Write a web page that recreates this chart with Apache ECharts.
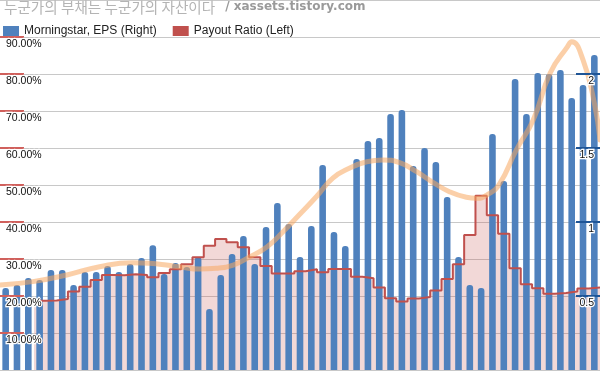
<!DOCTYPE html>
<html>
<head>
<meta charset="utf-8">
<script src="https://cdn.jsdelivr.net/npm/echarts@6/dist/echarts.min.js"></script>
<style>
html,body{margin:0;padding:0;background:#fff;}
#chart{width:600px;height:371px;}
</style>
</head>
<body>
<div id="chart"></div>
<script>
// ---- data ----
var categories = [];
for (var i = 1; i <= 53; i++) { categories.push(String(i)); }

// Morningstar EPS (right axis)
var eps = [0.554, 0.574, 0.622, 0.608, 0.676, 0.676, 0.574, 0.662, 0.662, 0.703,
           0.662, 0.716, 0.757, 0.843, 0.649, 0.723, 0.696, 0.764, 0.412, 0.642,
           0.784, 0.905, 0.716, 0.966, 1.128, 0.986, 0.764, 0.973, 1.385, 0.932,
           0.838, 1.426, 1.547, 1.568, 1.730, 1.757, 1.378, 1.500, 1.405, 1.169,
           0.764, 0.574, 0.554, 1.595, 1.277, 1.966, 1.730, 2.007, 2.000, 2.027,
           1.838, 1.926, 2.128];

// Payout ratio (left axis, %), starts at period index 3
var payoutStart = 3;
var payout = [18.7, 18.8, 19.2, 21.2, 22.5, 24.3, 25.7, 25.6, 25.9, 25.7,
              25.1, 26.2, 27.2, 28.6, 30.5, 33.6, 35.4, 34.5, 33.2, 30.5,
              28.1, 26.1, 26.1, 26.7, 27.2, 26.4, 27.3, 27.3, 25.2, 24.8,
              22.3, 19.4, 18.5, 19.3, 19.7, 21.5, 24.6, 28.6, 36.5, 47.1,
              41.8, 36.8, 27.5, 23.2, 22.1, 20.6, 20.8, 21.2, 22.0, 22.3];

// EPS trend line (position in periods, value on right axis)
var trendPos = [0, 2.9, 5.9, 8.8, 11.7, 13.2, 14.7, 16.1, 17.6, 19.1, 20.6, 22.1, 23.6, 25.0,
                26.5, 28.0, 29.4, 30.9, 32.4, 33.8, 35.3, 36.8, 38.2, 39.7, 41.2, 42.1, 43.0,
                44.1, 45.6, 47.1, 48.6, 50.1, 50.5, 51.5, 52.5, 53];
var trendVal = [0.574, 0.597, 0.642, 0.698, 0.725, 0.721, 0.709, 0.694, 0.682, 0.687, 0.709, 0.766, 0.833, 0.934,
                1.054, 1.176, 1.297, 1.365, 1.407, 1.419, 1.401, 1.340, 1.270, 1.205, 1.167, 1.160, 1.182,
                1.255, 1.486, 1.689, 2.007, 2.182, 2.218, 2.095, 1.804, 1.554];

var leftTicks = [0, 100, 10];   // min, max, interval (%)
var rightTicks = [0, 2.5, 0.5]; // min, max, interval

// ---- build ----
var payoutPts = payout.map(function (v, i) { return [payoutStart + i, v]; });
payoutPts.push([payoutStart + payout.length, payout[payout.length - 1]]);
var trendPts = trendPos.map(function (p, i) { return [p, trendVal[i]]; });

var labelStyle = {
  inside: true, margin: 6, verticalAlign: 'top', padding: [2, 0, 0, 0],
  showMinLabel: false, showMaxLabel: false,
  fontFamily: 'Liberation Sans', fontSize: 10.5, color: '#111',
  textBorderColor: '#fff', textBorderWidth: 2.5
};

var chart = echarts.init(document.getElementById('chart'), null, {renderer: 'canvas'});
chart.setOption({
  animation: false,
  backgroundColor: '#fff',
  title: {
    left: 4, top: 0, padding: 0,
    text: '{k|누군가의 부채는 누군가의 자산이다}{u|/ xassets.tistory.com}',
    textStyle: {
      rich: {
        k: {fontFamily: 'Noto Sans CJK KR', fontSize: 14.6, color: '#b4b4b4', fontWeight: 'normal'},
        u: {fontFamily: 'DejaVu Sans', fontSize: 12, color: '#9a9a9a', fontWeight: 'bold', padding: [0, 0, 0, 10]}
      }
    }
  },
  legend: {
    left: 3, top: 25, padding: 0, itemGap: 16,
    itemWidth: 16, itemHeight: 10, icon: 'rect',
    data: ['Morningstar, EPS (Right)', 'Payout Ratio (Left)'],
    textStyle: {fontFamily: 'Liberation Sans', fontSize: 12, color: '#222'}
  },
  grid: {left: 0, right: 0, top: 0, bottom: 1, containLabel: false},
  xAxis: [
    {type: 'category', data: categories, boundaryGap: true, show: false},
    {type: 'value', min: 0, max: categories.length, show: false}
  ],
  yAxis: [
    {
      type: 'value', position: 'left', min: leftTicks[0], max: leftTicks[1], interval: leftTicks[2],
      z: 10,
      axisLine: {show: false},
      axisTick: {show: true, inside: true, length: 24, lineStyle: {color: '#d0605c', width: 2}},
      axisLabel: Object.assign({}, labelStyle, {
        formatter: function (v) { return v.toFixed(2) + '%'; }
      }),
      splitLine: {show: false}
    },
    {
      type: 'value', position: 'right', min: rightTicks[0], max: rightTicks[1], interval: rightTicks[2],
      z: 10,
      axisLine: {show: false},
      axisTick: {show: true, inside: true, length: 24, lineStyle: {color: '#1f5596', width: 2}},
      axisLabel: Object.assign({}, labelStyle),
      splitLine: {show: false}
    },
    {
      type: 'value', position: 'left', min: leftTicks[0], max: leftTicks[1], interval: leftTicks[2],
      z: 0,
      axisLine: {show: false}, axisTick: {show: false}, axisLabel: {show: false},
      splitLine: {show: true, lineStyle: {color: '#c8c8c8', width: 1}}
    }
  ],
  series: [
    {
      name: 'payoutArea', type: 'line', xAxisIndex: 1, yAxisIndex: 0, step: 'end',
      data: payoutPts, symbol: 'none', z: 1,
      lineStyle: {width: 0, opacity: 0},
      areaStyle: {color: 'rgba(200,85,80,0.33)', origin: 'start'}
    },
    {
      name: 'Morningstar, EPS (Right)', type: 'bar', xAxisIndex: 0, yAxisIndex: 1,
      data: eps, barWidth: 6.6, z: 2,
      itemStyle: {color: '#4f81bd', borderRadius: [3, 3, 0, 0]}
    },
    {
      name: 'Payout Ratio (Left)', type: 'line', xAxisIndex: 1, yAxisIndex: 0, step: 'end',
      data: payoutPts, symbol: 'none', z: 3,
      itemStyle: {color: '#c0504d'},
      lineStyle: {color: '#c0504d', width: 2}
    },
    {
      name: 'trend', type: 'line', xAxisIndex: 1, yAxisIndex: 1, smooth: true,
      data: trendPts, symbol: 'none', z: 4,
      lineStyle: {color: '#f8a860', width: 5, opacity: 0.55, cap: 'round'}
    }
  ]
});
</script>
</body>
</html>
